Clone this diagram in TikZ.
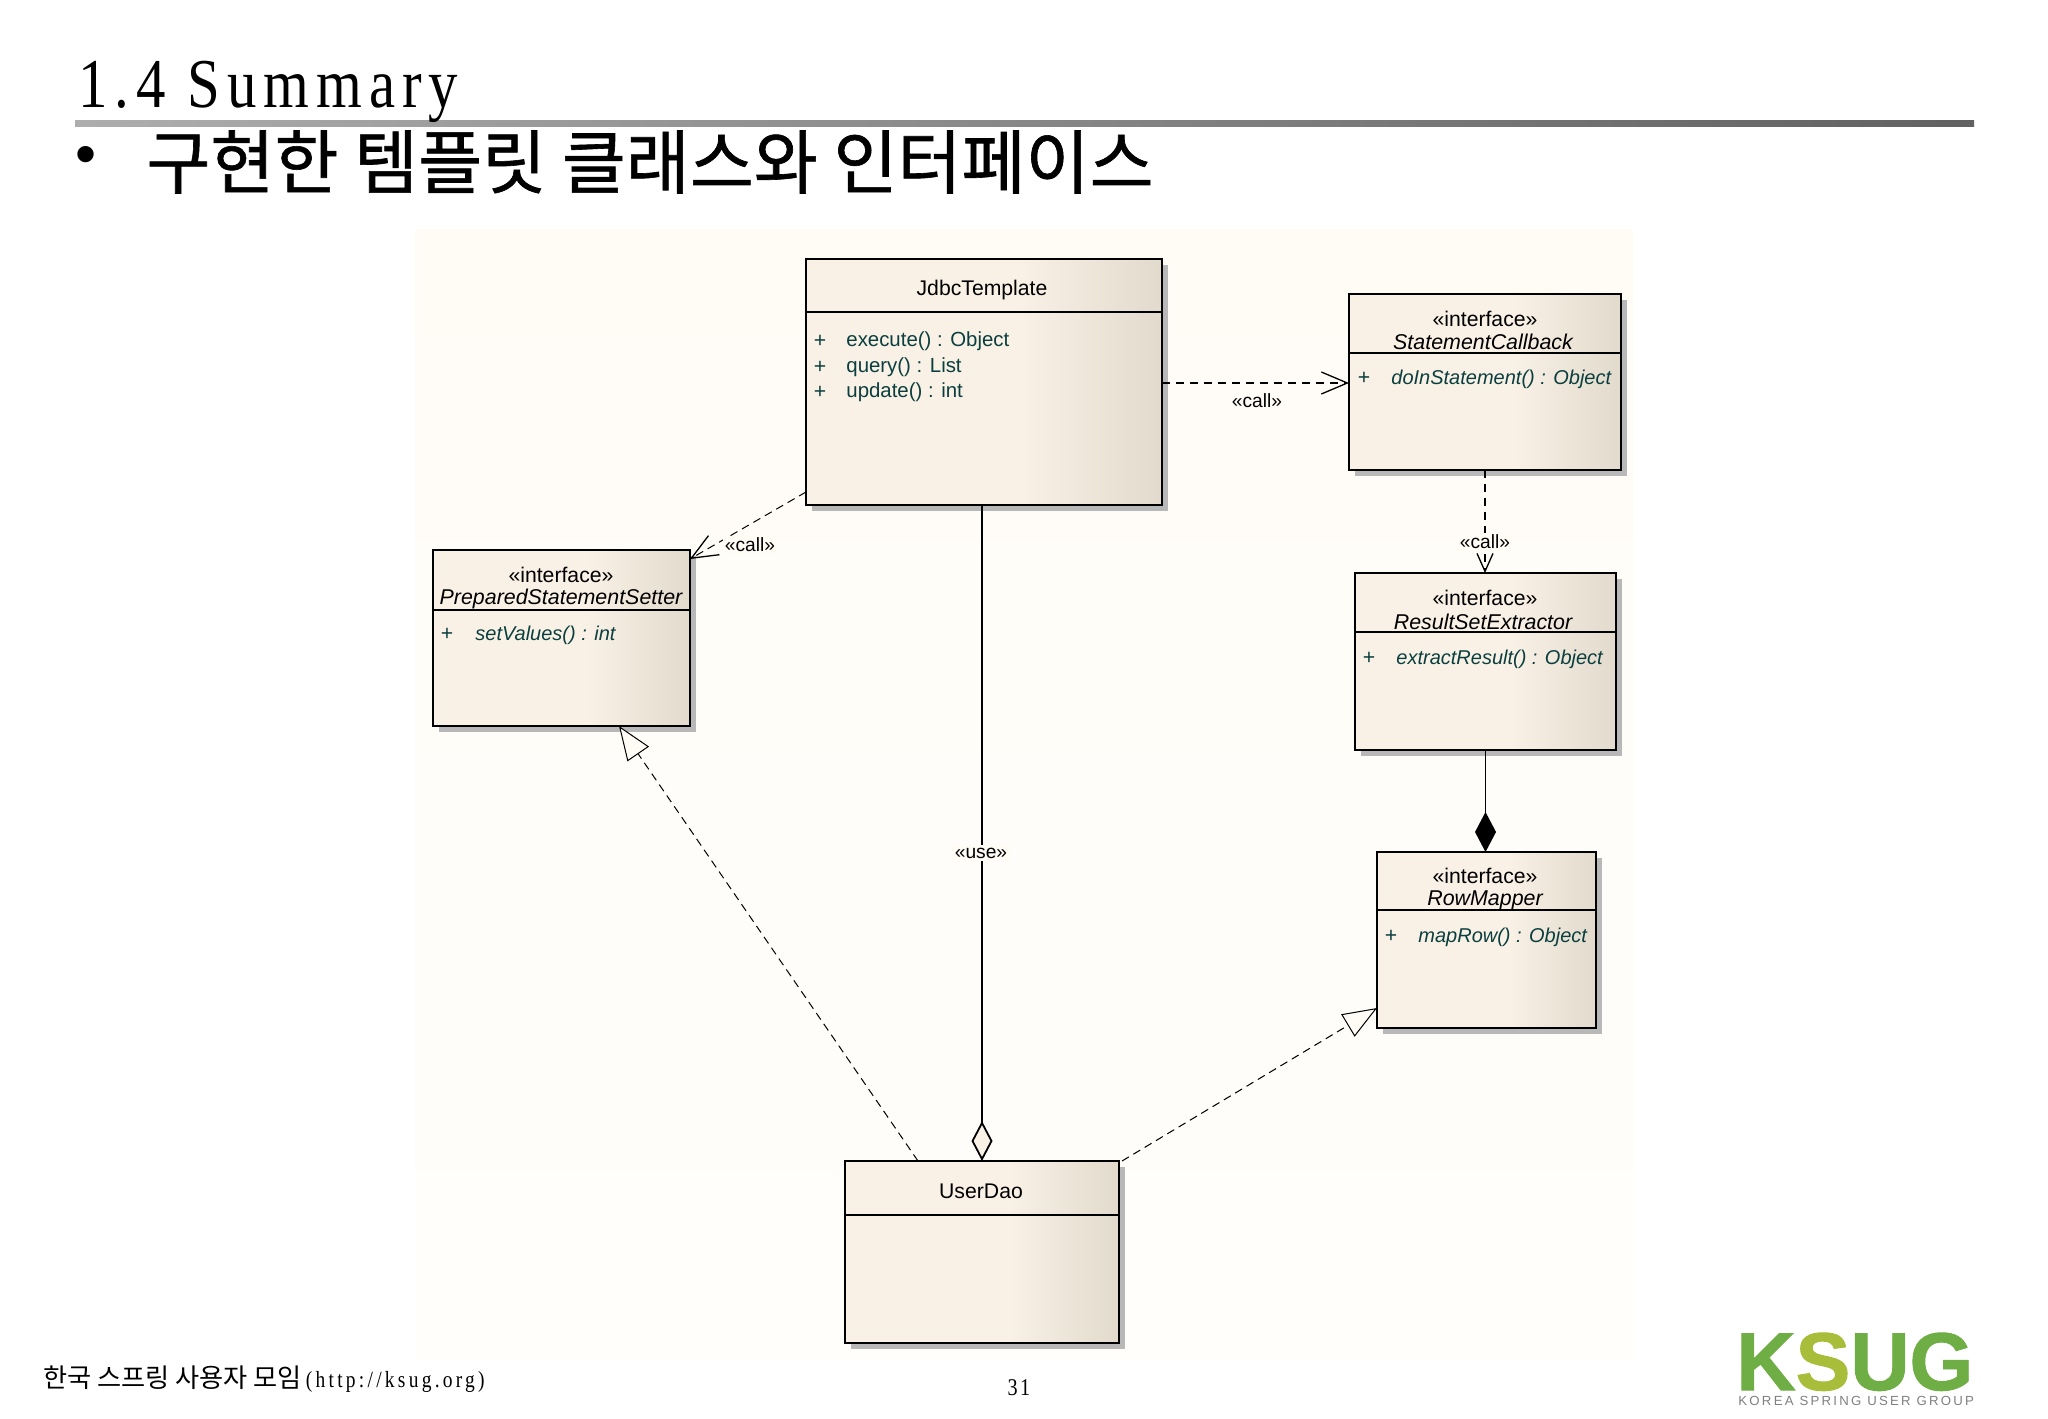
\documentclass[tikz,border=0pt]{standalone}
\usepackage{fontspec}
\usetikzlibrary{arrows.meta,shadows}
\setmainfont{Liberation Sans}
\newfontfamily\serifSpaced[FakeStretch=0.84,LetterSpace=10]{Liberation Serif}
\newfontfamily\urlSpaced[FakeStretch=0.84,LetterSpace=14]{Liberation Serif}
\newfontfamily\hangulFont{Noto Sans CJK KR}
\newfontfamily\hangulHeavy[FakeBold=0.9]{Noto Sans CJK KR}
\newfontfamily\logoSpaced[LetterSpace=17]{Liberation Sans}
\newfontfamily\logoHeavy[UprightFont=* Bold, FakeBold=1.2]{Liberation Sans}
\definecolor{boxLight}{HTML}{F9F1E6}
\definecolor{boxDark}{HTML}{E2DACC}
\definecolor{panelTone}{HTML}{FFFCF6}
\definecolor{methodTeal}{HTML}{0B3F3F}
\definecolor{logoGreen}{HTML}{6FAE44}
\definecolor{logoLime}{HTML}{A8BE3A}
\pgfdeclarehorizontalshading{boxGrad}{100bp}{color(0bp)=(boxLight); color(25bp)=(boxLight); color(55bp)=(boxLight); color(75bp)=(boxDark); color(100bp)=(boxDark)}

\begin{document}
\begin{tikzpicture}[
    x=0.5pt, y=-0.5pt,
    classBox/.style={draw, line width=1pt, shading=boxGrad, anchor=north west, inner sep=0pt, outer sep=0pt,
      drop shadow={shadow xshift=3.2pt, shadow yshift=-3.2pt, fill=black!28, opacity=1}},
    classText/.style={font=\fontsize{10.6}{12}\selectfont, inner sep=0pt},
    stereoText/.style={classText},
    abstractText/.style={classText, font=\fontsize{10.7}{12}\selectfont\itshape},
    plusText/.style={classText, text=methodTeal},
    methodText/.style={classText, text=methodTeal, anchor=west, font=\fontsize{10.2}{12}\selectfont},
    abstractMethod/.style={methodText, font=\fontsize{10}{12}\selectfont\itshape},
    linkLabel/.style={font=\fontsize{9.6}{11}\selectfont, fill=panelTone, inner sep=1.2pt},
    dashLine/.style={line width=0.7pt, dash pattern=on 4pt off 3pt},
    thinDash/.style={line width=0.5pt, dash pattern=on 4pt off 2.6pt},
    callTip/.style={-{Straight Barb[length=13pt, width=11pt, line width=0.65pt]}},
    smallTip/.style={-{Straight Barb[length=9pt, width=8pt, line width=0.65pt]}},
    hollowTip/.style={-{Triangle[open, length=17pt, width=13pt, fill=panelTone, line width=0.5pt]}},
    solidLine/.style={line width=0.9pt}
  ]
  \useasboundingbox (0,0) rectangle (2048,1418);

  %% ---- Slide heading ----
  \shade[left color=black!32, right color=black!62] (75,120) rectangle (1974,126);
  \node[anchor=base west, inner sep=0pt, font=\fontsize{35}{40}\selectfont\serifSpaced] (heading) at (78,108) {1.4 Summary};
  \node[inner sep=0pt, font=\fontsize{30}{32}\selectfont] (bullet) at (86,160) {•};
  \node[anchor=west, inner sep=0pt, font=\fontsize{34.8}{40}\selectfont\hangulHeavy] (subject) at (146,162) {구현한 템플릿 클래스와 인터페이스};

  %% ---- Diagram panel ----
  \shade[top color=panelTone, bottom color=white!60!panelTone] (415,229) rectangle (1633,1358);

  %% ---- Class boxes ----
  \node[classBox, minimum width=178pt, minimum height=123pt] (jdbc) at (806,259) {};
  \node[classBox, minimum width=136pt, minimum height=88pt] (stmt) at (1349,294) {};
  \node[classBox, minimum width=130.5pt, minimum height=88.5pt] (extractor) at (1355,573) {};
  \node[classBox, minimum width=128.5pt, minimum height=88pt] (setter) at (433,550) {};
  \node[classBox, minimum width=109.5pt, minimum height=88pt] (mapper) at (1377,852) {};
  \node[classBox, minimum width=137pt, minimum height=91pt] (dao) at (845,1161) {};

  % Compartment rules
  \draw[line width=0.85pt] (806,312) -- (1162,312);
  \draw[line width=0.85pt] (1349,353) -- (1621,353);
  \draw[line width=0.85pt] (1355,632) -- (1616,632);
  \draw[line width=0.85pt] (433,610) -- (690,610);
  \draw[line width=0.85pt] (1377,910) -- (1596,910);
  \draw[line width=0.85pt] (845,1215) -- (1119,1215);

  % JdbcTemplate text
  \node[classText] (jdbcName) at (982,290) {JdbcTemplate};
  \node[plusText] (jdbcPlusA) at (820,341) {+};
  \node[plusText] (jdbcPlusB) at (820,367) {+};
  \node[plusText] (jdbcPlusC) at (820,392) {+};
  \node[methodText] (jdbcExecute) at (846,341) {execute() : Object};
  \node[methodText] (jdbcQuery) at (846,367) {query() : List};
  \node[methodText] (jdbcUpdate) at (846,392) {update() : int};

  % StatementCallback text
  \node[stereoText] (stmtStereo) at (1485,319) {«interface»};
  \node[abstractText] (stmtName) at (1483,342) {StatementCallback};
  \node[plusText] (stmtPlus) at (1364,378) {+};
  \node[abstractMethod] (stmtMethod) at (1391,379) {doInStatement() : Object};

  % ResultSetExtractor text
  \node[stereoText] (extractorStereo) at (1485,598) {«interface»};
  \node[abstractText] (extractorName) at (1483,622) {ResultSetExtractor};
  \node[plusText] (extractorPlus) at (1369,658) {+};
  \node[abstractMethod] (extractorMethod) at (1396,659) {extractResult() : Object};

  % PreparedStatementSetter text
  \node[stereoText] (setterStereo) at (561,575) {«interface»};
  \node[abstractText] (setterName) at (561,599) {PreparedStatementSetter};
  \node[plusText] (setterPlus) at (447,634) {+};
  \node[abstractMethod] (setterMethod) at (475,635) {setValues() : int};

  % RowMapper text
  \node[stereoText] (mapperStereo) at (1485,876) {«interface»};
  \node[abstractText] (mapperName) at (1485,900) {RowMapper};
  \node[plusText] (mapperPlus) at (1391,936) {+};
  \node[abstractMethod] (mapperMethod) at (1418,937) {mapRow() : Object};

  % UserDao text
  \node[classText] (daoName) at (981,1191) {UserDao};

  %% ---- Connectors ----
  \draw[dashLine, callTip] (jdbc.east |- 0,383) -- (stmt.west |- 0,383);
  \draw[dashLine, smallTip] (stmt.south -| 1485,0) -- (extractor.north -| 1485,0);
  \draw[thinDash, callTip] ([yshift=6.5pt]jdbc.south west) -- ([yshift=-4.5pt]setter.north east);
  \draw[thinDash, hollowTip] ([xshift=36.5pt]dao.north west) -- ([xshift=93pt]setter.south west);
  \draw[thinDash, hollowTip] ([xshift=1.5pt]dao.north east) -- ([yshift=10pt]mapper.south west);
  \draw[solidLine, {Diamond[open, length=20pt, width=10.5pt, fill=boxLight]}-] (dao.north) -- (dao.north |- jdbc.south);
  \draw[solidLine, -{Diamond[length=20pt, width=10.5pt]}] (extractor.south) -- (extractor.south |- mapper.north);

  % Link labels
  \node[linkLabel, fill=none] (callRight) at (1257,401) {«call»};
  \node[linkLabel] (callDown) at (1485,542) {«call»};
  \node[linkLabel] (callLeft) at (750,545) {«call»};
  \node[linkLabel] (useLabel) at (981,853) {«use»};

  %% ---- Footer ----
  \node[anchor=base west, inner sep=0pt, font=\fontsize{13.1}{15}\selectfont] (footer) at (43,1387) {{\hangulFont 한국 스프링 사용자 모임}{\fontsize{11.6}{12}\selectfont\urlSpaced\,(http://ksug.org)}};
  \node[inner sep=0pt, font=\fontsize{12}{14}\selectfont\serifSpaced] (pageNo) at (1019,1388) {31};

  % Logo
  \node[anchor=base west, inner sep=0pt, font=\fontsize{41}{44}\selectfont\logoHeavy, text=logoGreen] (logoWord) at (1736,1390) {K\textcolor{logoLime}{S}UG};
  \node[anchor=base west, inner sep=0pt, font=\fontsize{6.6}{8}\selectfont\logoSpaced, text=black!50] (logoLine) at (1738,1405) {KOREA SPRING USER GROUP};
\end{tikzpicture}
\end{document}
